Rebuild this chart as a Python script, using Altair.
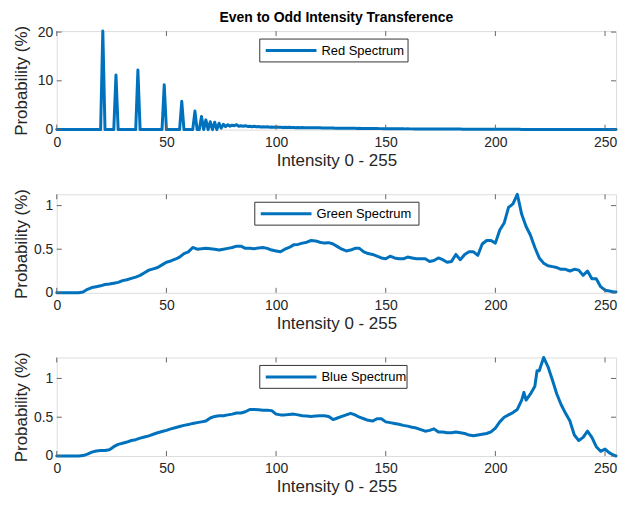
import altair as alt
import pandas as pd

BLUE = "#0072BD"
FONT = "Liberation Sans"
TXT = "#262626"
AXC = "#666666"

# ---------------- data ----------------
intensity = list(range(256))

red_prob = [
    0, 0, 0, 0, 0, 0, 0, 0, 0, 0, 0, 0, 0, 0, 0, 0,
    0, 0, 0, 0, 0, 20.2, 0, 0, 0, 0, 0, 11.2, 0, 0, 0, 0,
    0, 0, 0, 0, 0, 12.2, 0, 0, 0, 0, 0, 0, 0, 0, 0, 0,
    0, 9.2, 0, 0, 0, 0, 0, 0, 0, 5.8, 0, 0, 0, 0, 0, 3.8,
    0, 0, 2.7, 0, 2.0, 0, 1.6, 0, 1.5, 0, 1.3, 0.3, 1.1, 0.6, 1.0, 0.7,
    0.9, 0.8, 1.0, 0.7, 0.8, 0.7, 0.8, 0.65, 0.7, 0.6, 0.7, 0.6, 0.65, 0.55, 0.6, 0.55,
    0.6, 0.5, 0.55, 0.5, 0.55, 0.5, 0.5, 0.45, 0.5, 0.45, 0.5, 0.45, 0.45, 0.4, 0.45, 0.4,
    0.45, 0.4, 0.4, 0.38, 0.4, 0.36, 0.4, 0.36, 0.38, 0.34, 0.35, 0.32, 0.35, 0.32, 0.33, 0.3,
    0.3, 0.28, 0.3, 0.28, 0.3, 0.27, 0.28, 0.26, 0.27, 0.25, 0.26, 0.24, 0.25, 0.23, 0.24, 0.22,
    0.23, 0.22, 0.25, 0.2, 0.2, 0.19, 0.2, 0.18, 0.19, 0.17, 0.18, 0.17, 0.17, 0.16, 0.17, 0.15,
    0.16, 0.15, 0.15, 0.14, 0.15, 0.14, 0.14, 0.13, 0.14, 0.13, 0.13, 0.12, 0.13, 0.12, 0.12, 0.11,
    0.12, 0.11, 0.11, 0.1, 0.11, 0.1, 0.1, 0.1, 0.1, 0.09, 0.09, 0.09, 0.09, 0.08, 0.08, 0.08,
    0.08, 0.08, 0.07, 0.07, 0.07, 0.07, 0.07, 0.06, 0.06, 0.06, 0.06, 0.06, 0.05, 0.05, 0.05, 0.05,
    0.05, 0.05, 0.05, 0.05, 0.04, 0.04, 0.04, 0.04, 0.04, 0.04, 0.04, 0.04, 0.04, 0.04, 0.04, 0.04,
    0.04, 0.04, 0.04, 0.04, 0.03, 0.03, 0.03, 0.03, 0.03, 0.03, 0.03, 0.03, 0.03, 0.03, 0.03, 0.03,
    0.03, 0.03, 0.03, 0.03, 0.02, 0.02, 0.02, 0.02, 0.02, 0.02, 0.02, 0.02, 0.02, 0.02, 0.02, 0.02,
]

green_x = [
    0, 2, 4, 6, 8, 10, 12, 14, 16, 18,
    20, 22, 24, 26, 28, 30, 32, 34, 36, 38,
    40, 42, 44, 46, 48, 50, 52, 54, 56, 58,
    60, 62, 64, 66, 68, 70, 72, 74, 76, 78,
    80, 82, 84, 86, 88, 90, 92, 94, 96, 98,
    100, 102, 104, 106, 108, 110, 112, 114, 116, 118,
    120, 122, 124, 126, 128, 130, 132, 134, 136, 138,
    140, 142, 144, 146, 148, 150, 152, 154, 156, 158,
    160, 162, 164, 166, 168, 170, 172, 174, 176, 178,
    180, 182, 184, 186, 188, 190, 192, 194, 196, 198,
    200, 202, 204, 206, 208, 210, 212, 214, 216, 218,
    220, 222, 224, 226, 228, 230, 232, 234, 236, 238,
    240, 242, 244, 246, 248, 250, 252, 254, 255,
]
green_prob = [
    0, 0, 0, 0, 0, 0, 0.01, 0.04, 0.06, 0.07,
    0.08, 0.095, 0.1, 0.11, 0.12, 0.14, 0.15, 0.165, 0.18, 0.2,
    0.23, 0.26, 0.275, 0.29, 0.32, 0.35, 0.365, 0.385, 0.41, 0.45,
    0.47, 0.52, 0.5, 0.505, 0.51, 0.505, 0.5, 0.49, 0.5, 0.51,
    0.52, 0.535, 0.535, 0.51, 0.51, 0.505, 0.515, 0.52, 0.51, 0.49,
    0.48, 0.47, 0.5, 0.52, 0.55, 0.555, 0.57, 0.58, 0.6, 0.595,
    0.58, 0.57, 0.575, 0.56, 0.53, 0.5, 0.48, 0.49, 0.51, 0.51,
    0.47, 0.45, 0.44, 0.42, 0.4, 0.39, 0.42, 0.4, 0.39, 0.39,
    0.41, 0.4, 0.39, 0.39, 0.39, 0.36, 0.37, 0.4, 0.38, 0.35,
    0.36, 0.44, 0.38, 0.44, 0.47, 0.47, 0.43, 0.56, 0.6, 0.6,
    0.57, 0.72, 0.8, 0.98, 1.02, 1.13, 0.9, 0.76, 0.66, 0.52,
    0.4, 0.34, 0.31, 0.3, 0.29, 0.27, 0.27, 0.25, 0.27, 0.26,
    0.2, 0.25, 0.16, 0.16, 0.07, 0.03, 0.02, 0.01, 0.01,
]

blue_x = [
    0, 2, 4, 6, 8, 10, 12, 14, 16, 18,
    20, 22, 24, 26, 28, 30, 32, 34, 36, 38,
    40, 42, 44, 46, 48, 50, 52, 54, 56, 58,
    60, 62, 64, 66, 68, 70, 72, 74, 76, 78,
    80, 82, 84, 86, 88, 90, 92, 94, 96, 98,
    100, 102, 104, 106, 108, 110, 112, 114, 116, 118,
    120, 122, 124, 126, 128, 130, 132, 134, 136, 138,
    140, 142, 144, 146, 148, 150, 152, 154, 156, 158,
    160, 162, 164, 166, 168, 170, 172, 174, 176, 178,
    180, 182, 184, 186, 188, 190, 192, 194, 196, 198,
    200, 202, 204, 206, 208, 210,
    212, 213, 214, 216, 218, 219, 220, 222,
    224, 226, 228, 230, 232, 234, 236, 238, 240, 242, 244, 246, 248, 250, 252, 254,
    255,
]
blue_prob = [
    0, 0, 0, 0, 0, 0, 0.005, 0.025, 0.05, 0.065,
    0.07, 0.07, 0.08, 0.12, 0.15, 0.165, 0.18, 0.2, 0.21, 0.23,
    0.245, 0.26, 0.28, 0.3, 0.315, 0.33, 0.35, 0.365, 0.38, 0.395,
    0.405, 0.42, 0.43, 0.44, 0.45, 0.49, 0.51, 0.52, 0.52, 0.53,
    0.54, 0.555, 0.555, 0.57, 0.6, 0.6, 0.595, 0.59, 0.59, 0.585,
    0.54, 0.53, 0.53, 0.535, 0.54, 0.53, 0.52, 0.515, 0.51, 0.515,
    0.52, 0.52, 0.51, 0.47, 0.49, 0.51, 0.53, 0.55, 0.53, 0.5,
    0.48, 0.46, 0.45, 0.48, 0.48, 0.44, 0.43, 0.42, 0.41, 0.395,
    0.385, 0.37, 0.36, 0.34, 0.32, 0.33, 0.35, 0.31, 0.31, 0.3,
    0.3, 0.31, 0.3, 0.29, 0.27, 0.26, 0.27, 0.28, 0.29, 0.31,
    0.36, 0.44, 0.5, 0.53, 0.56, 0.6,
    0.72, 0.82, 0.72, 0.8, 0.9, 1.1, 1.1, 1.27,
    1.15, 0.98, 0.8, 0.66, 0.55, 0.45, 0.27, 0.2, 0.24, 0.32, 0.24, 0.12, 0.06, 0.09, 0.04, 0.01,
    0.0,
]

x_ticks = [0, 50, 100, 150, 200, 250]
red_y_ticks = [0, 10, 20]
gb_y_ticks = [0, 0.5, 1]
legend_labels = ["Red Spectrum", "Green Spectrum", "Blue Spectrum"]
chart_title = "Even to Odd Intensity Transference"
x_title = "Intensity 0 - 255"
y_title = "Probability (%)"

W, H = 562, 99
TL = 5  # tick length


def panel(xs, ys, yticks, label, lx0, lx1):
    df = pd.DataFrame({"x": xs, "y": ys})
    ymax = max(ys)
    xscale = alt.Scale(domain=[0, 255], nice=False, zero=False)
    yscale = alt.Scale(domain=[0, ymax], nice=False, zero=True)
    xaxis = alt.Axis(
        values=x_ticks, title=x_title, grid=False, ticks=False,
        domain=False, tickSize=0, labelPadding=6, labelFontSize=14,
        titleFontSize=17, titlePadding=3, labelFont=FONT, titleFont=FONT,
        titleFontWeight="normal", labelColor=TXT, titleColor=TXT,
        labelFlush=False, labelOverlap=False)
    yaxis = alt.Axis(
        values=yticks, title=y_title, grid=False, ticks=False, format="~g",
        domain=False, tickSize=0, labelPadding=4, labelFontSize=14,
        titleFontSize=17, labelFont=FONT, titleFont=FONT,
        titleFontWeight="normal", labelColor=TXT, titleColor=TXT,
        titleX=-26, labelOverlap=False)

    line = alt.Chart(df).mark_line(
        color=BLUE, strokeWidth=3, strokeJoin="round", strokeCap="round"
    ).encode(
        x=alt.X("x:Q", scale=xscale, axis=xaxis),
        y=alt.Y("y:Q", scale=yscale, axis=yaxis),
    )

    xt = pd.DataFrame({"x": x_ticks})
    yt = pd.DataFrame({"y": yticks})
    xb = alt.Chart(xt).mark_rule(color=AXC, strokeWidth=1).encode(
        x=alt.X("x:Q", scale=xscale, axis=xaxis), y=alt.value(H), y2=alt.value(H - TL))
    xtop = alt.Chart(xt).mark_rule(color=AXC, strokeWidth=1).encode(
        x=alt.X("x:Q", scale=xscale, axis=xaxis), y=alt.value(0), y2=alt.value(TL))
    yl = alt.Chart(yt).mark_rule(color=AXC, strokeWidth=1).encode(
        y=alt.Y("y:Q", scale=yscale, axis=yaxis), x=alt.value(0), x2=alt.value(TL))
    yr = alt.Chart(yt).mark_rule(color=AXC, strokeWidth=1).encode(
        y=alt.Y("y:Q", scale=yscale, axis=yaxis), x=alt.value(W), x2=alt.value(W - TL))

    ldf = pd.DataFrame({"label": [label]})
    box = alt.Chart(ldf).mark_rect(fill="white", stroke="#333333", strokeWidth=1).encode(
        x=alt.value(lx0), x2=alt.value(lx1), y=alt.value(8), y2=alt.value(31))
    sample = alt.Chart(ldf).mark_rule(color=BLUE, strokeWidth=3).encode(
        x=alt.value(lx0 + 6), x2=alt.value(lx0 + 57), y=alt.value(19.5))
    txt = alt.Chart(ldf).mark_text(
        align="left", baseline="middle", font=FONT, fontSize=13, color="#000000"
    ).encode(x=alt.value(lx0 + 62), y=alt.value(20), text="label:N")

    return alt.layer(line, xb, xtop, yl, yr, box, sample, txt).properties(width=W, height=H)


p1 = panel(intensity, red_prob, red_y_ticks, legend_labels[0], 204, 353).properties(
    title=alt.TitleParams(chart_title, font=FONT, fontSize=14, fontWeight="bold",
                          color="#000000", anchor="middle", frame="group", offset=0))
p2 = panel(green_x, green_prob, gb_y_ticks, legend_labels[1], 199, 364)
p3 = panel(blue_x, blue_prob, gb_y_ticks, legend_labels[2], 204, 352)

chart = alt.vconcat(p1, p2, p3, spacing=65, bounds="flush").properties(
    padding={"left": 4, "top": 1, "right": 0, "bottom": 0}
).configure_view(stroke=AXC, strokeWidth=1).configure(background="white")

chart.save("out.html", embed_options={"renderer": "svg", "actions": False})
